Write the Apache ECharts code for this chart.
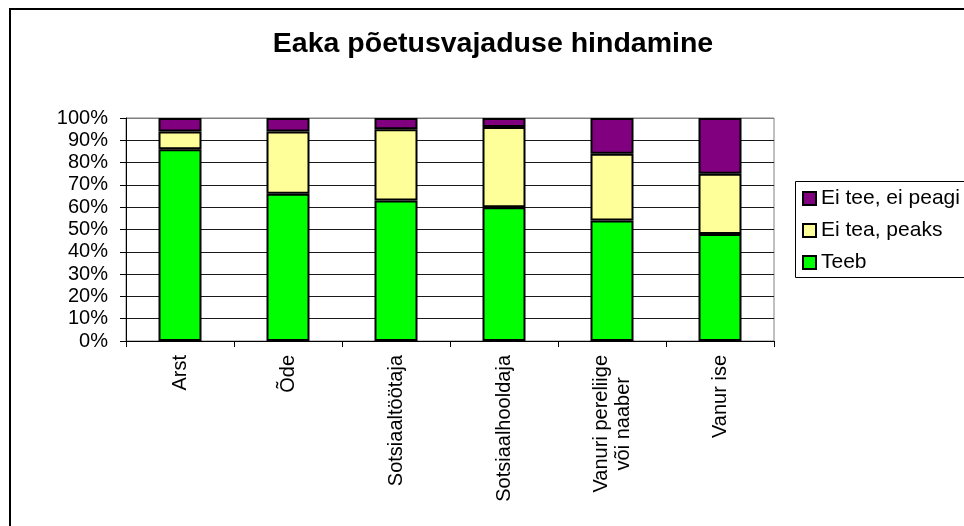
<!DOCTYPE html>
<html>
<head>
<meta charset="utf-8">
<script src="https://cdn.jsdelivr.net/npm/echarts@6/dist/echarts.min.js"></script>
<style>
  html, body { margin: 0; padding: 0; background: #fff; }
  #chart { width: 964px; height: 526px; }
</style>
</head>
<body>
<div id="chart"></div>
<script>
// Categories: who assesses the elderly person's care needs
const categories = ['Arst', 'Õde', 'Sotsiaaltöötaja', 'Sotsiaalhooldaja', 'Vanuri pereliige\nvõi naaber', 'Vanur ise'];

// Shares per answer (percent)
const teeb = [86, 66, 63, 60, 54, 48];
const eiTeaPeaks = [8, 28, 32, 36, 30, 27];
const eiTeeEiPeagi = [6, 6, 5, 4, 16, 25];

const yTicks = [0, 10, 20, 30, 40, 50, 60, 70, 80, 90, 100];

const FONT = '"Liberation Sans", Arial, sans-serif';

const chart = echarts.init(document.getElementById('chart'), null, { renderer: 'canvas' });

const barStyle = (color) => ({ color: color, borderColor: '#000', borderWidth: 2 });

// Grid line colours: dark inside, grey at the top frame
const splitColors = yTicks.map((v) => (v === 100 ? '#808080' : '#1a1a1a'));

chart.setOption({
  animation: false,
  backgroundColor: '#fff',
  textStyle: { fontFamily: FONT },
  grid: {
    left: 126, top: 118, width: 648, height: 223,
    show: true, borderColor: '#808080', borderWidth: 1, backgroundColor: 'transparent'
  },
  legend: {
    orient: 'vertical',
    left: 802,
    top: 188,
    padding: 0,
    itemWidth: 13,
    itemHeight: 13,
    itemGap: 11,
    icon: 'rect',
    itemStyle: { borderColor: '#000', borderWidth: 2 },
    data: ['Ei tee, ei peagi', 'Ei tea, peaks', 'Teeb'],
    textStyle: { fontSize: 21, color: '#000', fontFamily: FONT },
    selectedMode: false
  },
  xAxis: {
    type: 'category',
    data: categories,
    axisLine: { lineStyle: { color: '#000', width: 1 } },
    axisTick: { show: true, length: 6, lineStyle: { color: '#000' } },
    axisLabel: {
      rotate: 90,
      margin: 14,
      interval: 0,
      fontSize: 20,
      color: '#000',
      fontFamily: FONT,
      formatter: (v) => v.split('\n').map((s) => '{c|' + s + '}').join('\n'),
      rich: { c: { align: 'center', fontSize: 20, fontFamily: FONT, color: '#000', lineHeight: 22 } }
    },
    splitLine: { show: false }
  },
  yAxis: {
    type: 'value',
    min: 0,
    max: 100,
    interval: 10,
    axisLine: { show: true, lineStyle: { color: '#000', width: 1 } },
    axisTick: { show: true, length: 6, lineStyle: { color: '#000' } },
    axisLabel: {
      margin: 18,
      fontSize: 20,
      color: '#000',
      fontFamily: FONT,
      formatter: (v) => v + '%'
    },
    splitLine: { show: true, lineStyle: { color: splitColors, width: 1 } }
  },
  series: [
    { name: 'Teeb', type: 'bar', stack: 'total', data: teeb, barWidth: 43, itemStyle: barStyle('#00FF00') },
    { name: 'Ei tea, peaks', type: 'bar', stack: 'total', data: eiTeaPeaks, barWidth: 43, itemStyle: barStyle('#FFFF99') },
    { name: 'Ei tee, ei peagi', type: 'bar', stack: 'total', data: eiTeeEiPeagi, barWidth: 43, itemStyle: barStyle('#800080') }
  ],
  graphic: [
    // Outer chart frame
    { type: 'rect', shape: { x: 10, y: 9, width: 1000, height: 600 }, style: { fill: 'none', stroke: '#000', lineWidth: 2 }, silent: true, z: 100 },
    // Legend frame
    { type: 'rect', shape: { x: 795.5, y: 181.5, width: 300, height: 96 }, style: { fill: 'none', stroke: '#000', lineWidth: 1 }, silent: true, z: 100 },
    // Title
    {
      type: 'text', x: 493, y: 44,
      style: {
        text: 'Eaka põetusvajaduse hindamine',
        font: 'bold 28.5px ' + FONT, fill: '#000',
        textAlign: 'center', textVerticalAlign: 'middle'
      },
      silent: true
    }
  ]
});
</script>
</body>
</html>
